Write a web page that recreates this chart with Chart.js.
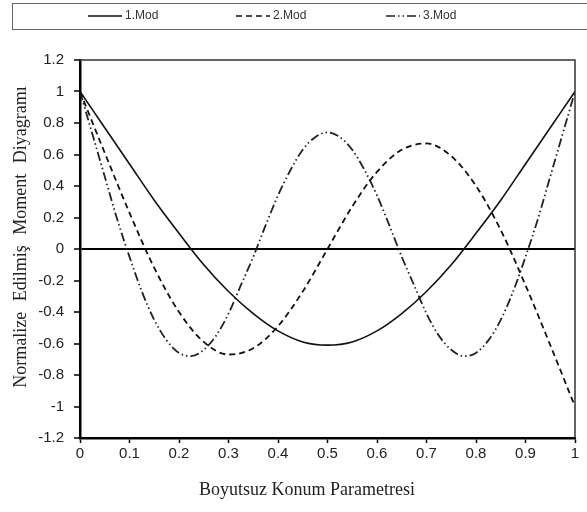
<!DOCTYPE html>
<html>
<head>
<meta charset="utf-8">
<script src="https://cdn.jsdelivr.net/npm/chart.js@4/dist/chart.umd.min.js"></script>
<style>
  html, body { margin: 0; padding: 0; background: #fff; }
  #wrap { width: 587px; height: 512px; }
</style>
</head>
<body>
<div id="wrap"><canvas id="graph" width="587" height="512"></canvas></div>
<script>
// positions along the beam
var xCoarse = [0, 0.05, 0.1, 0.15, 0.2, 0.25, 0.3, 0.35, 0.4, 0.45, 0.5,
               0.55, 0.6, 0.65, 0.7, 0.75, 0.8, 0.85, 0.9, 0.95, 1];
var xFine = [0, 0.025, 0.05, 0.075, 0.1, 0.125, 0.15, 0.175, 0.2, 0.225, 0.25,
             0.275, 0.3, 0.325, 0.35, 0.375, 0.4, 0.425, 0.45, 0.475, 0.5,
             0.525, 0.55, 0.575, 0.6, 0.625, 0.65, 0.675, 0.7, 0.725, 0.75,
             0.775, 0.8, 0.825, 0.85, 0.875, 0.9, 0.925, 0.95, 0.975, 1];

// normalized moment values
var mode1 = [1.00, 0.77, 0.54, 0.31, 0.10, -0.10, -0.27, -0.41, -0.52, -0.59, -0.61,
             -0.59, -0.52, -0.41, -0.27, -0.10, 0.10, 0.31, 0.54, 0.77, 1.00];
var mode2 = [1.00, 0.61, 0.23, -0.12, -0.40, -0.59, -0.67, -0.63, -0.49, -0.27, 0.00,
             0.27, 0.49, 0.63, 0.67, 0.59, 0.40, 0.12, -0.23, -0.61, -1.00];
var mode3 = [1.00, 0.73, 0.46, 0.19, -0.05, -0.27, -0.45, -0.58, -0.66, -0.68, -0.64,
             -0.55, -0.41, -0.23, -0.05, 0.15, 0.34, 0.50, 0.63, 0.71, 0.74,
             0.71, 0.63, 0.50, 0.34, 0.15, -0.05, -0.23, -0.41, -0.55, -0.64,
             -0.68, -0.66, -0.58, -0.45, -0.27, -0.05, 0.19, 0.46, 0.73, 1.00];

var seriesNames = ['1.Mod', '2.Mod', '3.Mod'];
var xTickLabels = ['0', '0.1', '0.2', '0.3', '0.4', '0.5', '0.6', '0.7', '0.8', '0.9', '1'];
var yTickLabels = ['-1.2', '-1', '-0.8', '-0.6', '-0.4', '-0.2', '0', '0.2', '0.4', '0.6', '0.8', '1', '1.2'];
var xTitle = 'Boyutsuz Konum Parametresi';
var yTitle = 'Normalize Edilmiş Moment Diyagramı';

function pts(xs, ys) {
  return xs.map(function (v, i) { return {x: v, y: ys[i]}; });
}

// legend box, frame and axis titles
var decor = {
  id: 'decor',
  afterDraw: function (chart) {
    var ctx = chart.ctx, a = chart.chartArea;
    ctx.save();
    // frame top/right
    ctx.strokeStyle = '#333';
    ctx.lineWidth = 1.5;
    ctx.beginPath();
    ctx.moveTo(a.left, a.top);
    ctx.lineTo(a.right, a.top);
    ctx.lineTo(a.right, a.bottom);
    ctx.stroke();

    // legend
    ctx.strokeStyle = '#666';
    ctx.lineWidth = 1;
    ctx.strokeRect(12.5, 3.5, 590, 26);
    var starts = [88, 236, 386];
    ctx.font = '12px "Liberation Sans", Arial, sans-serif';
    ctx.fillStyle = '#333';
    ctx.textBaseline = 'middle';
    chart.data.datasets.forEach(function (ds, i) {
      ctx.save();
      ctx.strokeStyle = ds.borderColor;
      ctx.lineWidth = 1.5;
      ctx.setLineDash(ds.borderDash || []);
      ctx.beginPath();
      ctx.moveTo(starts[i], 16);
      ctx.lineTo(starts[i] + 34, 16);
      ctx.stroke();
      ctx.restore();
      ctx.fillText(ds.label, starts[i] + 37, 16);
    });

    // axis titles
    ctx.fillStyle = '#222';
    ctx.font = '18px "Liberation Serif", "Times New Roman", serif';
    ctx.textAlign = 'center';
    ctx.textBaseline = 'middle';
    ctx.fillText(xTitle, 307, 490);
    ctx.translate(21, 237);
    ctx.rotate(-Math.PI / 2);
    if ('wordSpacing' in ctx) ctx.wordSpacing = '6px';
    ctx.fillText(yTitle, 0, 0);
    ctx.restore();
  }
};

var tickFont = {family: '"Liberation Sans", Arial, sans-serif', size: 15};

var graph = new Chart('graph', {
  type: 'line',
  data: {
    datasets: [{
      label: seriesNames[0],
      data: pts(xCoarse, mode1),
      borderColor: '#111',
      borderWidth: 1.6,
      cubicInterpolationMode: 'monotone'
    }, {
      label: seriesNames[1],
      data: pts(xCoarse, mode2),
      borderColor: '#111',
      borderWidth: 1.8,
      borderDash: [6, 4],
      cubicInterpolationMode: 'monotone'
    }, {
      label: seriesNames[2],
      data: pts(xFine, mode3),
      borderColor: '#222',
      borderWidth: 1.8,
      borderDash: [9, 3, 1.5, 3, 1.5, 3],
      cubicInterpolationMode: 'monotone'
    }]
  },
  options: {
    responsive: false,
    animation: false,
    elements: { point: { radius: 0 } },
    layout: { padding: { top: 60, right: 12, left: 0, bottom: 0 } },
    plugins: { legend: { display: false }, tooltip: { enabled: false } },
    scales: {
      x: {
        type: 'linear',
        min: 0, max: 1,
        afterBuildTicks: function (s) { s.ticks = xTickLabels.map(function (t) { return {value: Number(t)}; }); },
        afterFit: function (s) { s.height = 74; },
        ticks: {
          font: tickFont, color: '#222', padding: 2, maxRotation: 0,
          callback: function (v, i) { return xTickLabels[i]; }
        },
        grid: { drawOnChartArea: false, tickLength: 5, tickColor: '#000', tickWidth: 1.5 },
        border: { color: '#000', width: 2.5 }
      },
      y: {
        min: -1.2, max: 1.2,
        afterBuildTicks: function (s) { s.ticks = yTickLabels.map(function (t) { return {value: Number(t)}; }); },
        afterFit: function (s) { s.width = 80; },
        ticks: {
          font: tickFont, color: '#222', padding: 10,
          callback: function (v, i) { return yTickLabels[i]; }
        },
        grid: {
          tickLength: 6, tickColor: '#000', tickWidth: 1.5,
          color: function (c) { return c.tick && c.tick.value === 0 ? '#000' : 'rgba(0,0,0,0)'; },
          lineWidth: function (c) { return c.tick && c.tick.value === 0 ? 2 : 0; }
        },
        border: { color: '#000', width: 2.5 }
      }
    }
  },
  plugins: [decor]
});
</script>
</body>
</html>
